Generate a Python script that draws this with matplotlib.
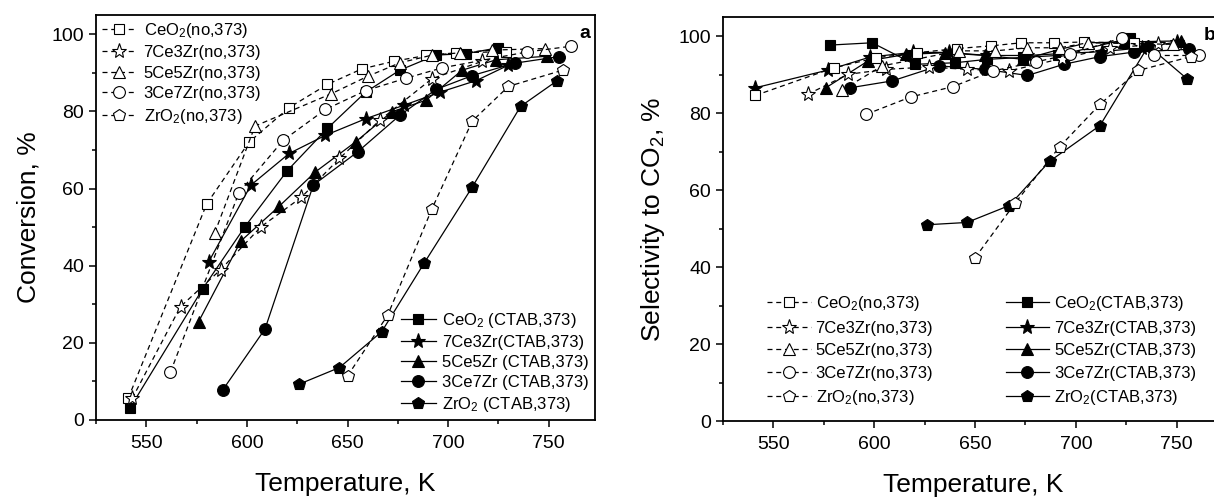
import matplotlib
matplotlib.use("Agg")
import matplotlib.pyplot as plt
from matplotlib.ticker import MultipleLocator

plt.rcParams['font.family'] = ['Liberation Sans', 'DejaVu Sans']
plt.rcParams['mathtext.fontset'] = 'custom'
plt.rcParams['mathtext.rm'] = 'Liberation Sans'
plt.rcParams['mathtext.it'] = 'Liberation Sans:italic'
plt.rcParams['mathtext.bf'] = 'Liberation Sans:bold'

# ---------------- Panel a: conversion ----------------
T_ceo2_no = [541, 580, 601, 621, 640, 657, 673, 689, 704, 729]
C_ceo2_no = [5.6, 56, 72, 81, 87, 91, 93, 94.5, 95.2, 95.5]
T_73_no = [543, 567, 587, 607, 627, 646, 666, 692, 717]
C_73_no = [5.6, 29.4, 39, 50.1, 57.7, 67.8, 77.7, 88.5, 93]
T_55_no = [584, 604, 642, 660, 676, 692, 706, 722, 748]
C_55_no = [48.5, 76.2, 84.6, 89.1, 92.6, 94.6, 95.2, 95.9, 96.3]
T_37_no = [562, 596, 618, 639, 659, 679, 697, 739, 761]
C_37_no = [12.4, 58.9, 72.5, 80.5, 85.4, 88.6, 91.3, 95.4, 96.9]
T_zr_no = [650, 670, 692, 712, 730, 757]
C_zr_no = [11.4, 27.2, 54.8, 77.5, 86.5, 90.7]

T_ceo2_ct = [542, 578, 599, 620, 640, 659, 676, 694, 709, 725]
C_ceo2_ct = [3.2, 34, 50.1, 64.6, 75.6, 85, 90.7, 94.6, 95, 96.5]
T_73_ct = [581, 602, 621, 639, 659, 678, 696, 714, 730]
C_73_ct = [41, 60.9, 69.1, 73.8, 78.1, 81.6, 85, 88, 92]
T_55_ct = [576, 597, 616, 634, 654, 672, 689, 707, 724, 749]
C_55_ct = [25.5, 46.4, 55.4, 64.3, 72.1, 79.9, 82.9, 90.7, 93.4, 94.3]
T_37_ct = [588, 609, 633, 655, 676, 694, 712, 733, 755]
C_37_ct = [7.8, 23.6, 60.9, 69.5, 79, 85.7, 89.3, 92.5, 94.2]
T_zr_ct = [626, 646, 667, 688, 712, 736, 754]
C_zr_ct = [9.3, 13.6, 22.9, 40.6, 60.4, 81.3, 87.9]

# ---------------- Panel b: selectivity ----------------
Tb_ceo2_no = [541, 580, 601, 621, 641, 658, 673, 689, 704, 729]
S_ceo2_no = [84.6, 91.8, 94.4, 95.7, 96.8, 97.5, 98.3, 98.3, 98.5, 98.2]
Tb_73_no = [567, 587, 606, 627, 646, 667, 693, 717, 741]
S_73_no = [84.9, 90.1, 91.4, 92, 91.4, 91, 94.2, 97, 97.9]
Tb_55_no = [584, 604, 642, 660, 676, 692, 706, 748]
S_55_no = [86, 92.3, 96.2, 96.2, 97, 97, 98.3, 97.9]
Tb_37_no = [596, 618, 639, 659, 680, 697, 723, 739, 761]
S_37_no = [79.7, 84.2, 86.9, 91, 93.3, 95.3, 99.6, 95, 95]
Tb_zr_no = [650, 670, 692, 712, 731, 757]
S_zr_no = [42.4, 56.7, 71.3, 82.3, 91.1, 94.7]

Tb_ceo2_ct = [578, 599, 620, 640, 656, 674, 691, 727]
S_ceo2_ct = [97.7, 98.3, 92.7, 93.1, 94, 94.5, 95, 99.5]
Tb_73_ct = [541, 577, 598, 619, 637, 656, 676, 693, 713, 733, 750]
S_73_ct = [86.6, 91.2, 94.6, 95.8, 95.8, 95, 95, 95.5, 96, 97, 98.5]
Tb_55_ct = [576, 597, 616, 635, 655, 674, 692, 706, 724, 752]
S_55_ct = [86.6, 93.6, 95.3, 95.7, 95, 94, 96.6, 98.3, 98.5, 98.8]
Tb_37_ct = [588, 609, 632, 655, 676, 694, 712, 729, 756]
S_37_ct = [86.6, 88.4, 92.3, 91.4, 89.8, 92.7, 94.7, 95.9, 96.6]
Tb_zr_ct = [626, 646, 667, 687, 712, 736, 755]
S_zr_ct = [51, 51.6, 56, 67.5, 76.8, 97.5, 89]

markers = ['s', '*', '^', 'o', 'p']
msizes = [7.5, 11, 8.5, 8.5, 9]

labels_a_no = ['CeO$_2$(no,373)', '7Ce3Zr(no,373)', '5Ce5Zr(no,373)', '3Ce7Zr(no,373)', 'ZrO$_2$(no,373)']
labels_a_ct = ['CeO$_2$ (CTAB,373)', '7Ce3Zr(CTAB,373)', '5Ce5Zr (CTAB,373)', '3Ce7Zr (CTAB,373)', 'ZrO$_2$ (CTAB,373)']
labels_b_no = ['CeO$_2$(no,373)', '7Ce3Zr(no,373)', '5Ce5Zr(no,373)', '3Ce7Zr(no,373)', 'ZrO$_2$(no,373)']
labels_b_ct = ['CeO$_2$(CTAB,373)', '7Ce3Zr(CTAB,373)', '5Ce5Zr(CTAB,373)', '3Ce7Zr(CTAB,373)', 'ZrO$_2$(CTAB,373)']

A_no = [(T_ceo2_no, C_ceo2_no), (T_73_no, C_73_no), (T_55_no, C_55_no), (T_37_no, C_37_no), (T_zr_no, C_zr_no)]
A_ct = [(T_ceo2_ct, C_ceo2_ct), (T_73_ct, C_73_ct), (T_55_ct, C_55_ct), (T_37_ct, C_37_ct), (T_zr_ct, C_zr_ct)]
B_no = [(Tb_ceo2_no, S_ceo2_no), (Tb_73_no, S_73_no), (Tb_55_no, S_55_no), (Tb_37_no, S_37_no), (Tb_zr_no, S_zr_no)]
B_ct = [(Tb_ceo2_ct, S_ceo2_ct), (Tb_73_ct, S_73_ct), (Tb_55_ct, S_55_ct), (Tb_37_ct, S_37_ct), (Tb_zr_ct, S_zr_ct)]

W, H = 1214, 499
fig = plt.figure(figsize=(W / 100, H / 100), dpi=100)
axa = fig.add_axes([96 / W, 79 / H, 499 / W, 405 / H])
axb = fig.add_axes([723 / W, 78 / H, 500 / W, 404 / H])

TICK_FS = 14
LAB_FS = 19
LEG_FS = 12


def draw(ax, no_sets, ct_sets, lab_no, lab_ct):
    h_ct = []
    for (x, y), m, ms, lab in zip(ct_sets, markers, msizes, lab_ct):
        l, = ax.plot(x, y, color='black', lw=0.9, marker=m, ms=ms, mfc='black',
                     mec='black', mew=0.8, label=lab, zorder=2)
        h_ct.append(l)
    h_no = []
    for (x, y), m, ms, lab in zip(no_sets, markers, msizes, lab_no):
        l, = ax.plot(x, y, color='black', lw=0.9, ls=(0, (4, 3)), marker=m, ms=ms,
                     mfc='white', mec='black', mew=0.8, label=lab, zorder=3)
        h_no.append(l)
    ax.set_xlim(525, 773)
    ax.set_ylim(0, 105)
    ax.xaxis.set_major_locator(MultipleLocator(50))
    ax.xaxis.set_minor_locator(MultipleLocator(25))
    ax.yaxis.set_major_locator(MultipleLocator(20))
    ax.yaxis.set_minor_locator(MultipleLocator(10))
    ax.tick_params(which='both', direction='out', top=False, right=False,
                   labelsize=TICK_FS, width=1.1)
    ax.tick_params(which='major', length=5)
    ax.tick_params(which='minor', length=3)
    ax.tick_params(axis='x', which='major', pad=6)
    for s in ax.spines.values():
        s.set_linewidth(1.3)
    ax.set_xlabel('Temperature, K', fontsize=LAB_FS, labelpad=14)
    return h_no, h_ct


h_no, h_ct = draw(axa, A_no, A_ct, labels_a_no, labels_a_ct)
axa.set_ylabel('Conversion, %', fontsize=LAB_FS, labelpad=8)
leg1 = axa.legend(handles=h_no, loc='upper left', bbox_to_anchor=(0.0, 1.0),
                  frameon=False, fontsize=LEG_FS, handlelength=2.1, handletextpad=0.4,
                  labelspacing=0.33, borderaxespad=0.25, borderpad=0.1)
axa.add_artist(leg1)
axa.legend(handles=h_ct, loc='lower right', bbox_to_anchor=(1.0, 0.0),
           frameon=False, fontsize=LEG_FS, handlelength=2.1, handletextpad=0.4,
           labelspacing=0.3, borderaxespad=0.25, borderpad=0.1)
axa.text(0.968, 0.975, 'a', transform=axa.transAxes, ha='left', va='top',
         fontsize=14, fontweight='bold')

h_no, h_ct = draw(axb, B_no, B_ct, labels_b_no, labels_b_ct)
axb.set_ylabel('Selectivity to CO$_2$, %', fontsize=LAB_FS, labelpad=8)
leg2 = axb.legend(handles=h_no, loc='lower left', bbox_to_anchor=(0.085, 0.03),
                  frameon=False, fontsize=LEG_FS, handlelength=2.6, handletextpad=0.3,
                  labelspacing=0.45, borderaxespad=0.0, borderpad=0.1)
axb.add_artist(leg2)
axb.legend(handles=h_ct, loc='lower left', bbox_to_anchor=(0.562, 0.03),
           frameon=False, fontsize=LEG_FS, handlelength=2.6, handletextpad=0.3,
           labelspacing=0.45, borderaxespad=0.0, borderpad=0.1)
axb.text(0.962, 0.975, 'b', transform=axb.transAxes, ha='left', va='top',
         fontsize=14, fontweight='bold')

fig.savefig('out.png', dpi=100)
